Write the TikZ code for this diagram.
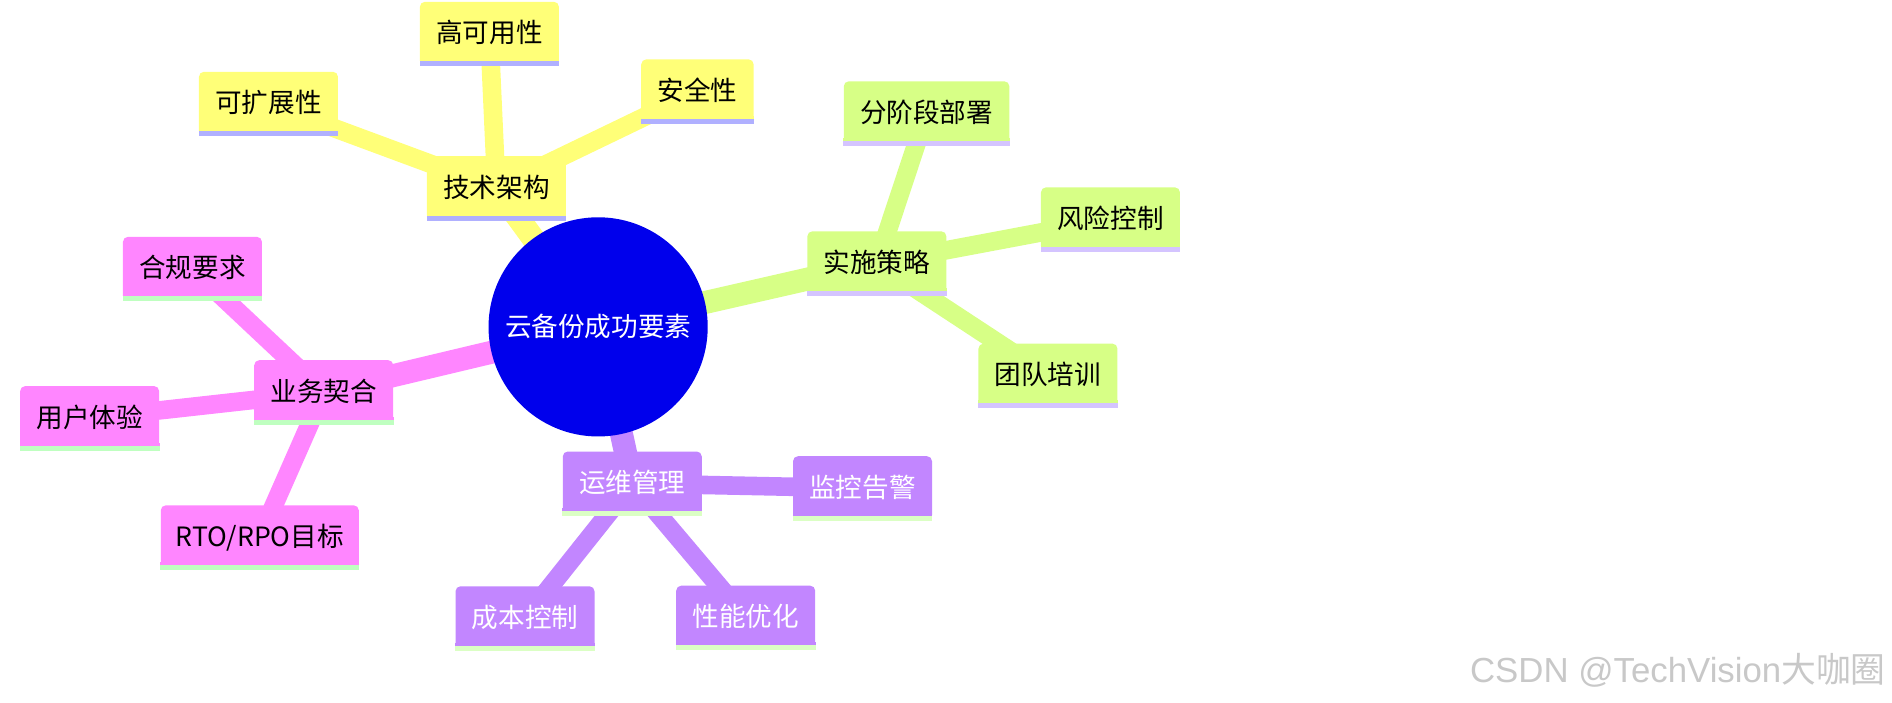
\documentclass[tikz,border=0pt]{standalone}
\usepackage{fontspec}
\newfontfamily\cjk{Noto Sans CJK SC}
\newfontfamily\wmfont{Liberation Sans}
\usetikzlibrary{backgrounds}
\definecolor{secY}{HTML}{FFFF78}
\definecolor{secG}{HTML}{D7FF86}
\definecolor{secV}{HTML}{C286FF}
\definecolor{secP}{HTML}{FF86FF}
\definecolor{rootB}{HTML}{0000EC}
\definecolor{stY}{HTML}{B0B0FF}
\definecolor{stG}{HTML}{D4C4FF}
\definecolor{stP}{HTML}{BFFFC0}
\definecolor{stV}{HTML}{DBFFC4}
\definecolor{wmgray}{HTML}{C8C8C8}
\newcommand\mmnode[7][]{%
  \node[mmbox, fill=#5, text=#7, #1] (#2) at #3 {#4};
  \fill[#5] ([yshift=4pt]#2.south west) rectangle (#2.south east);
  \fill[#6] ([yshift=2.5pt]#2.south west) rectangle (#2.south east);
}
\begin{document}
\begin{tikzpicture}[x=0.60332pt,y=-0.60332pt,
  mmbox/.style={rounded corners=2.5pt, inner xsep=8.15pt, inner ysep=0pt,
    text height=20.55pt, text depth=11.45pt,
    font=\cjk\fontsize{13.3pt}{16pt}\selectfont},
  rootedge/.style={line width=11.5pt},
  leafedge/.style={line width=9.3pt}]
\useasboundingbox (0,0) rectangle (1568,581.8);

\node[circle, fill=rootB, minimum size=109.6pt, inner sep=0pt, text=white,
  font=\cjk\fontsize{13.3pt}{16pt}\selectfont] (root) at (495.7,270.9) {云备份成功要素};

\mmnode{tj}{(411.4,156)}{技术架构}{secY}{stY}{black}
\mmnode{gk}{(405.6,28)}{高可用性}{secY}{stY}{black}
\mmnode{kk}{(222.5,86)}{可扩展性}{secY}{stY}{black}
\mmnode{aq}{(578,75.7)}{安全性}{secY}{stY}{black}

\mmnode{ss}{(726.7,218.2)}{实施策略}{secG}{stG}{black}
\mmnode{fj}{(767.9,93.9)}{分阶段部署}{secG}{stG}{black}
\mmnode{fx}{(920.3,181.8)}{风险控制}{secG}{stG}{black}
\mmnode{td}{(868.5,311.3)}{团队培训}{secG}{stG}{black}

\mmnode{yw}{(268.3,325)}{业务契合}{secP}{stP}{black}
\mmnode{hg}{(159.5,222.8)}{合规要求}{secP}{stP}{black}
\mmnode{yh}{(74.3,346.5)}{用户体验}{secP}{stP}{black}
\mmnode[inner xsep=7.5pt]{rto}{(215.3,445.3)}{RTO/RPO目标}{secP}{stP}{black}

\mmnode{yx}{(524,400.7)}{运维管理}{secV}{stV}{white}
\mmnode{jk}{(714.8,404.6)}{监控告警}{secV}{stV}{white}
\mmnode{cb}{(435.1,512.4)}{成本控制}{secV}{stV}{white}
\mmnode{xn}{(618,511.9)}{性能优化}{secV}{stV}{white}

\begin{scope}[on background layer]
  \draw[rootedge, secY] (root.center) -- (tj.center);
  \draw[rootedge, secG] (root.center) -- (ss.center);
  \draw[rootedge, secP] (root.center) -- (yw.center);
  \draw[rootedge, secV] (root.center) -- (yx.center);
  \draw[leafedge, secY] (tj.center) -- (gk.center);
  \draw[leafedge, secY] (tj.center) -- (kk.center);
  \draw[leafedge, secY] (tj.center) -- (aq.center);
  \draw[leafedge, secG] (ss.center) -- (fj.center);
  \draw[leafedge, secG] (ss.center) -- (fx.center);
  \draw[leafedge, secG] (ss.center) -- (td.center);
  \draw[leafedge, secP] (yw.center) -- (hg.center);
  \draw[leafedge, secP] (yw.center) -- (yh.center);
  \draw[leafedge, secP] (yw.center) -- (rto.center);
  \draw[leafedge, secV] (yx.center) -- (jk.center);
  \draw[leafedge, secV] (yx.center) -- (cb.center);
  \draw[leafedge, secV] (yx.center) -- (xn.center);
\end{scope}

\node[anchor=base west, inner sep=0pt, text=wmgray,
  font=\wmfont\fontsize{17.4pt}{20pt}\selectfont] (wm) at (1218,565.7)
  {CSDN @TechVision{\cjk 大咖圈}};
\end{tikzpicture}
\end{document}
